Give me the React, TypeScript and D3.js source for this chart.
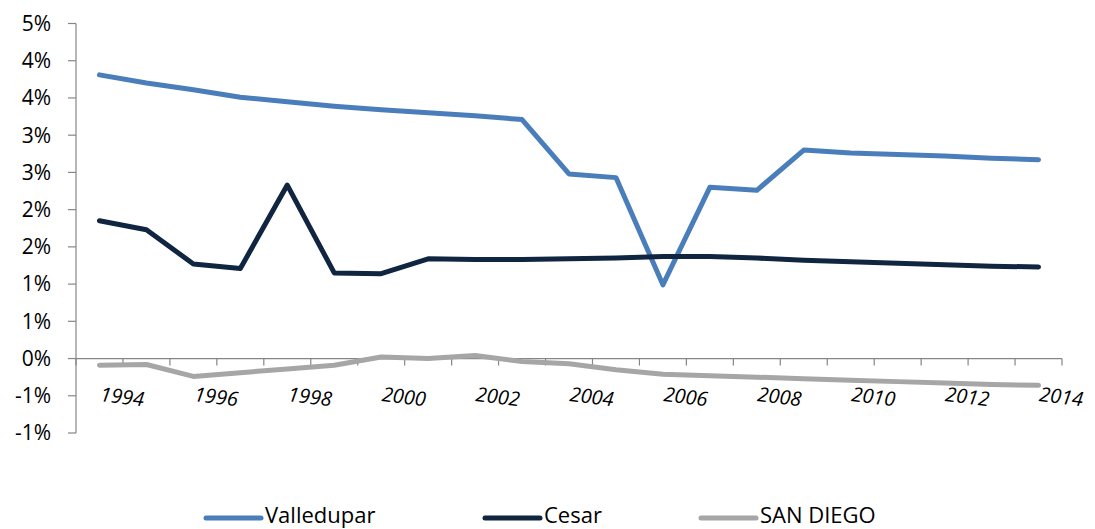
import React from "react";
import * as d3 from "d3";

const years = [1994, 1995, 1996, 1997, 1998, 1999, 2000, 2001, 2002, 2003, 2004, 2005, 2006, 2007, 2008, 2009, 2010, 2011, 2012, 2013, 2014];
const valledupar = [3.81, 3.70, 3.61, 3.51, 3.45, 3.39, 3.34, 3.30, 3.26, 3.21, 2.48, 2.43, 0.99, 2.30, 2.26, 2.80, 2.76, 2.74, 2.72, 2.69, 2.67];
const cesar = [1.85, 1.73, 1.27, 1.21, 2.33, 1.15, 1.14, 1.34, 1.33, 1.33, 1.34, 1.35, 1.37, 1.37, 1.35, 1.32, 1.30, 1.28, 1.26, 1.24, 1.23];
const sanDiego = [-0.09, -0.08, -0.24, -0.19, -0.14, -0.09, 0.02, 0.0, 0.04, -0.04, -0.07, -0.15, -0.21, -0.23, -0.25, -0.27, -0.29, -0.31, -0.33, -0.35, -0.36];
const yTicks = [-1.0, -0.5, 0, 0.5, 1.0, 1.5, 2.0, 2.5, 3.0, 3.5, 4.0, 4.5];
const xLabelYears = [1994, 1996, 1998, 2000, 2002, 2004, 2006, 2008, 2010, 2012, 2014];

const seriesList = [
  { name: "Valledupar", values: valledupar, color: "#4a7ebb" },
  { name: "Cesar", values: cesar, color: "#10253f" },
  { name: "SAN DIEGO", values: sanDiego, color: "#a6a6a6" },
];

const W = 1095;
const H = 529;
const plot = { left: 76, right: 1062, top: 23.5, bottom: 433 };
const FONT = "'Open Sans', sans-serif";

function fmtPct(v: number) {
  // Excel-style rounding: half away from zero
  const r = Math.sign(v) * Math.round(Math.abs(v));
  return `${r === 0 ? 0 : r}%`;
}

export default function App() {
  const x = d3
    .scaleBand<number>()
    .domain(years)
    .range([plot.left, plot.right])
    .paddingInner(0)
    .paddingOuter(0);
  const y = d3.scaleLinear().domain([-1.0, 4.5]).range([plot.bottom, plot.top]);
  const cx = (yr: number) => (x(yr) as number) + x.bandwidth() / 2;
  const line = d3
    .line<number>()
    .x((_, i) => cx(years[i]))
    .y((d) => y(d));
  const y0 = y(0);
  const tickBoundaries = d3.range(years.length + 1).map((i) => plot.left + i * x.bandwidth());

  const legendItems = [
    { lineX: 206, textX: 265 },
    { lineX: 485, textX: 544 },
    { lineX: 701, textX: 760 },
  ];

  return (
    <svg
      width={W}
      height={H}
      style={{ position: "absolute", left: 0, top: 0, background: "#fff" }}
      fontFamily={FONT}
    >
      {/* Y axis */}
      <line x1={plot.left} x2={plot.left} y1={plot.top} y2={plot.bottom} stroke="#868686" strokeWidth={1.2} />
      {yTicks.map((t) => (
        <g key={t}>
          <line x1={plot.left - 8} x2={plot.left} y1={y(t)} y2={y(t)} stroke="#868686" strokeWidth={1.2} />
          <text x={51} y={y(t)} dy="0.35em" textAnchor="end" fontSize={21} fill="#000">
            {fmtPct(t)}
          </text>
        </g>
      ))}
      {/* X axis at 0 */}
      <line x1={plot.left} x2={plot.right} y1={y0} y2={y0} stroke="#868686" strokeWidth={1.2} />
      {tickBoundaries.map((tx, i) => (
        <line key={i} x1={tx} x2={tx} y1={y0} y2={y0 + 7} stroke="#868686" strokeWidth={1.2} />
      ))}
      {/* Lines */}
      {seriesList.map((s) => (
        <path
          key={s.name}
          d={line(s.values) as string}
          fill="none"
          stroke={s.color}
          strokeWidth={5}
          strokeLinejoin="round"
          strokeLinecap="round"
        />
      ))}
      {/* X labels */}
      {xLabelYears.map((yr) => {
        const px = cx(yr);
        const py = 401;
        return (
          <text
            key={yr}
            x={px}
            y={py}
            transform={`rotate(7, ${px}, ${py})`}
            fontSize={20}
            fontStyle="italic"
            fill="#000"
          >
            {yr}
          </text>
        );
      })}
      {/* Legend */}
      {seriesList.map((s, i) => (
        <g key={s.name}>
          <line
            x1={legendItems[i].lineX}
            x2={legendItems[i].lineX + 55}
            y1={518}
            y2={518}
            stroke={s.color}
            strokeWidth={5}
            strokeLinecap="round"
          />
          <text x={legendItems[i].textX} y={523} fontSize={22} fill="#000">
            {s.name}
          </text>
        </g>
      ))}
    </svg>
  );
}
